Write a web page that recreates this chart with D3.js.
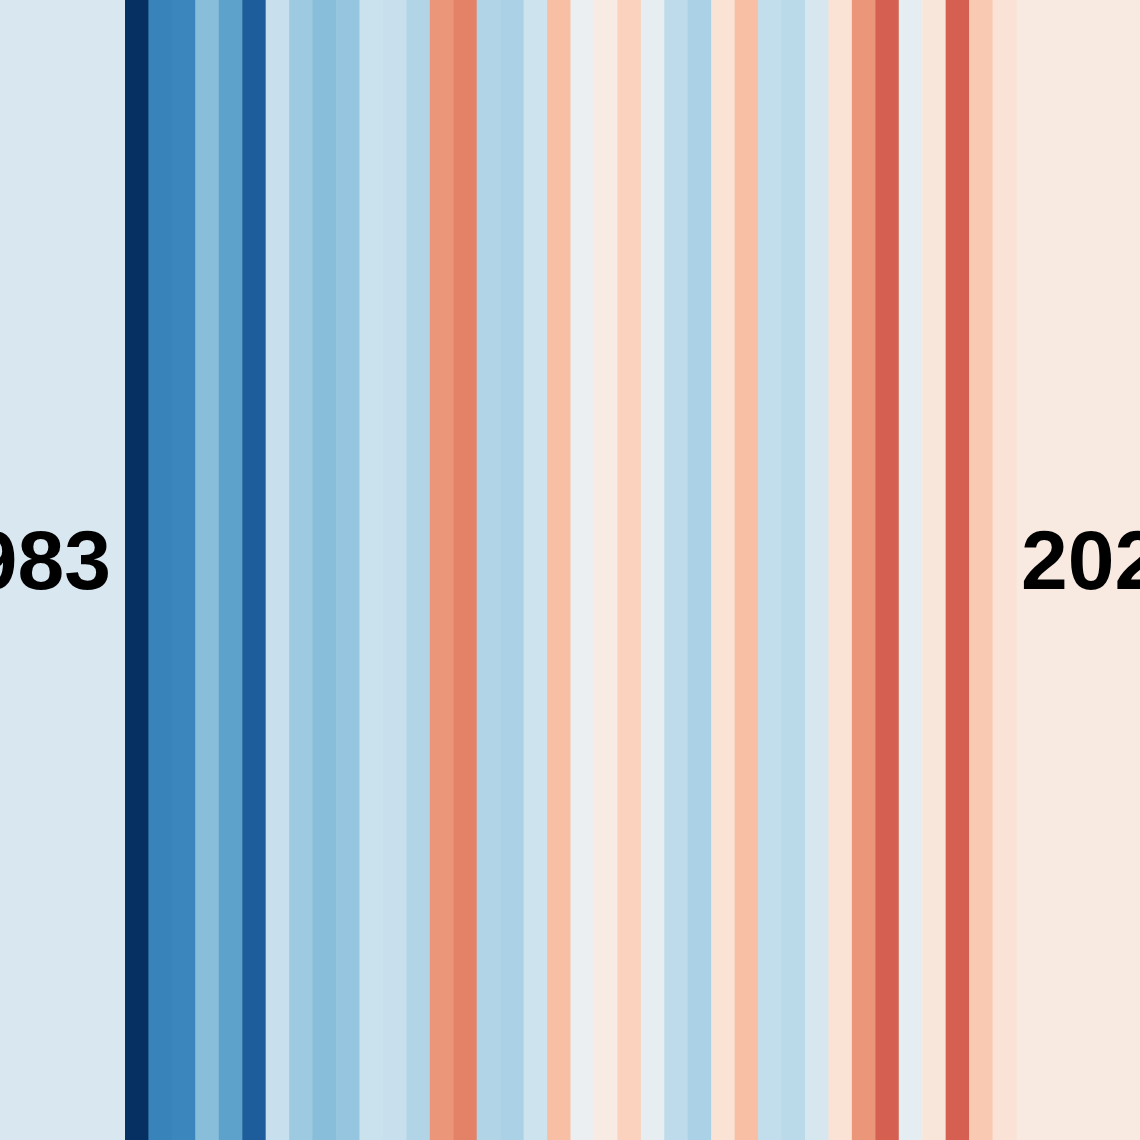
<!DOCTYPE html>
<html>
<head>
<meta charset="utf-8">
<script src="https://cdn.jsdelivr.net/npm/d3@7"></script>
<style>
  html, body { margin: 0; padding: 0; background: #ffffff; }
  svg { display: block; }
</style>
</head>
<body>
<svg id="chart" width="1140" height="1140"></svg>
<script>
const years = d3.range(1983, 2021);
const anomalies = [
  -1.00, -0.67, -0.66, -0.42, -0.54, -0.83, -0.22, -0.36, -0.42, -0.38,
  -0.21, -0.22, -0.30, 0.44, 0.50, -0.30, -0.32, -0.20, 0.30, -0.05,
  0.07, 0.22, -0.08, -0.26, -0.32, 0.14, 0.30, -0.24, -0.27, -0.16,
  0.14, 0.44, 0.60, -0.10, 0.11, 0.60, 0.26, 0.13
];
const labels = ["1983", "2020"];

const W = 1140, H = 1140;
const margin = { left: 125, right: 124 };
const svg = d3.select("#chart");

const x = d3.scaleBand()
  .domain(years)
  .range([margin.left, W - margin.right])
  .paddingInner(0).paddingOuter(0);

const color = d3.scaleDiverging(t => d3.interpolateRdBu(1 - t))
  .domain([-1, 0, 1]);

// margin backgrounds
svg.append("rect").attr("x", 0).attr("y", 0)
  .attr("width", margin.left).attr("height", H).attr("fill", "#d9e7f0");
svg.append("rect").attr("x", W - margin.right).attr("y", 0)
  .attr("width", margin.right).attr("height", H).attr("fill", "#f8e9e1");

svg.append("g").selectAll("rect")
  .data(years.map((y, i) => ({ year: y, v: anomalies[i] })))
  .join("rect")
  .attr("x", d => x(d.year))
  .attr("y", 0)
  .attr("width", x.bandwidth() + 0.5)
  .attr("height", H)
  .attr("fill", d => color(d.v));

const font = "'Liberation Sans', Arial, Helvetica, sans-serif";
svg.append("text")
  .attr("x", margin.left - 14)
  .attr("y", 589)
  .attr("text-anchor", "end")
  .attr("font-family", font)
  .attr("font-weight", "bold")
  .attr("font-size", 84)
  .attr("fill", "#000")
  .text(labels[0]);
svg.append("text")
  .attr("x", W - margin.right + 5)
  .attr("y", 589)
  .attr("text-anchor", "start")
  .attr("font-family", font)
  .attr("font-weight", "bold")
  .attr("font-size", 84)
  .attr("fill", "#000")
  .text(labels[1]);
</script>
</body>
</html>
